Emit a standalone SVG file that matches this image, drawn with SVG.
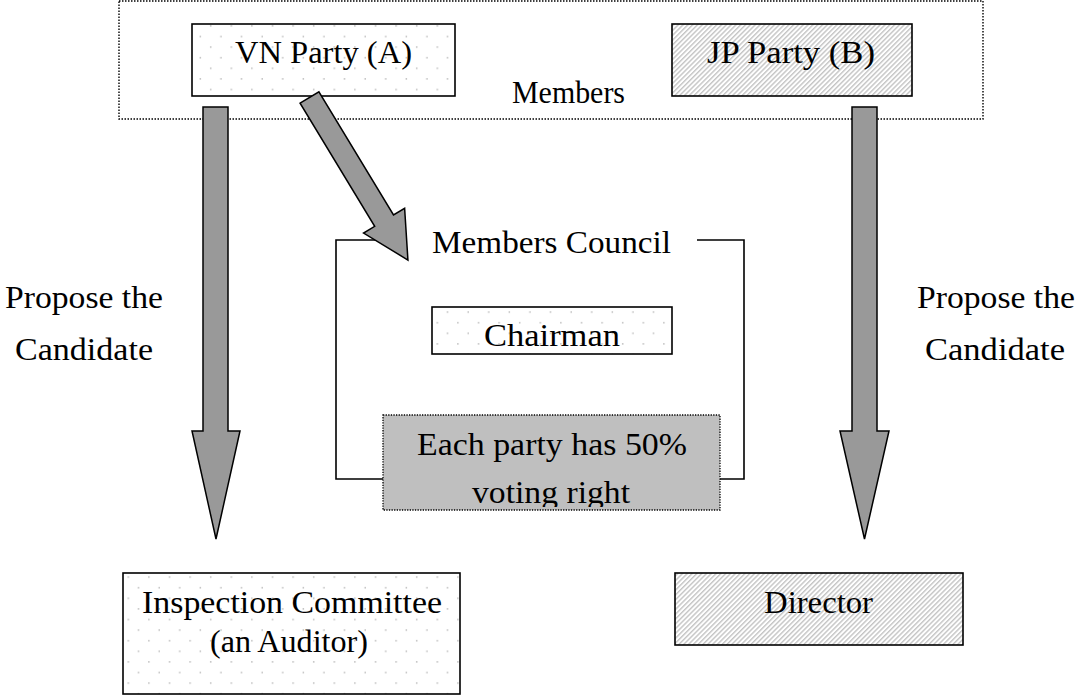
<svg xmlns="http://www.w3.org/2000/svg" width="1077" height="696" viewBox="0 0 1077 696">
<style>
text{font-family:"Liberation Serif","DejaVu Serif",serif;font-size:31px;fill:#000;text-anchor:middle}
.box{stroke:#000;stroke-width:1.6}
.dots{fill:url(#dots)}
.hatch{fill:url(#hatch)}
.arrow{fill:#999;stroke:#000;stroke-width:1.5;stroke-linejoin:miter}
.line{fill:none;stroke:#000;stroke-width:1.6}
</style>
<defs>
<pattern id="dots" width="20.6" height="21.2" patternUnits="userSpaceOnUse">
<rect width="20.6" height="21.2" fill="#fff"/>
<rect x="4" y="4" width="1.4" height="1.4" fill="#b4b4b4"/>
<rect x="14.3" y="14.6" width="1.4" height="1.4" fill="#b4b4b4"/>
</pattern>
<pattern id="hatch" width="3.4" height="10" patternUnits="userSpaceOnUse" patternTransform="rotate(45)">
<rect width="3.4" height="10" fill="#fff"/>
<rect width="1.4" height="10" fill="#c4c4c4"/>
</pattern>
<clipPath id="voteclip"><rect x="383" y="415" width="337" height="92"/></clipPath>
</defs>
<rect width="1077" height="696" fill="#fff"/>

<g id="members">
<rect x="119" y="1" width="864" height="118" fill="none" stroke="#000" stroke-width="1.4" stroke-dasharray="1.5,1.5"/>
<text x="568.5" y="103" textLength="113" lengthAdjust="spacingAndGlyphs">Members</text>
</g>
<g id="vn-party">
<rect class="box dots" x="192" y="24" width="263" height="72"/>
<text x="323.5" y="63" textLength="177" lengthAdjust="spacingAndGlyphs">VN Party (A)</text>
</g>
<g id="jp-party">
<rect class="box hatch" x="672" y="24" width="240" height="72"/>
<text x="791" y="63" textLength="168" lengthAdjust="spacingAndGlyphs">JP Party (B)</text>
</g>
<g id="members-council">
<polyline class="line" points="395,240 336,240 336,479 383,479"/>
<polyline class="line" points="697,240 744,240 744,479 720,479"/>
<text x="551.5" y="253" textLength="239" lengthAdjust="spacingAndGlyphs">Members Council</text>
</g>
<g id="chairman">
<rect class="box dots" x="432" y="307" width="240" height="47"/>
<text x="552" y="346" textLength="136" lengthAdjust="spacingAndGlyphs">Chairman</text>
</g>
<g id="voting">
<rect x="383" y="415" width="337" height="95" fill="#bfbfbf" stroke="#000" stroke-width="1.3" stroke-dasharray="1.3,1.3"/>
<g clip-path="url(#voteclip)">
<text x="552" y="455" textLength="270" lengthAdjust="spacingAndGlyphs">Each party has 50%</text>
<text x="551" y="503" textLength="158" lengthAdjust="spacingAndGlyphs">voting right</text>
</g>
</g>
<g id="inspection">
<rect class="box dots" x="123" y="573" width="337" height="121"/>
<text x="292" y="613" textLength="300" lengthAdjust="spacingAndGlyphs">Inspection Committee</text>
<text x="289" y="652" textLength="158" lengthAdjust="spacingAndGlyphs">(an Auditor)</text>
</g>
<g id="director">
<rect class="box hatch" x="675" y="573" width="288" height="72"/>
<text x="818.5" y="613" textLength="109" lengthAdjust="spacingAndGlyphs">Director</text>
</g>
<g id="label-left">
<text x="84" y="308" textLength="158" lengthAdjust="spacingAndGlyphs">Propose the</text>
<text x="84" y="360" textLength="138" lengthAdjust="spacingAndGlyphs">Candidate</text>
</g>
<g id="label-right">
<text x="996" y="308" textLength="158" lengthAdjust="spacingAndGlyphs">Propose the</text>
<text x="995" y="360" textLength="140" lengthAdjust="spacingAndGlyphs">Candidate</text>
</g>

<g id="connectors">
<polygon class="arrow" points="203,107 228,107 228,431 240,431 216,539 192,431 203,431"/>
<polygon class="arrow" points="852,107 877,107 877,431 889,431 864.5,539 840,431 852,431"/>
<polygon class="arrow" transform="translate(309.5,97.5) rotate(-31.2)" points="-11,0 11,0 11,144 24,144 0,190 -24,144 -11,144"/>
</g>
</svg>
